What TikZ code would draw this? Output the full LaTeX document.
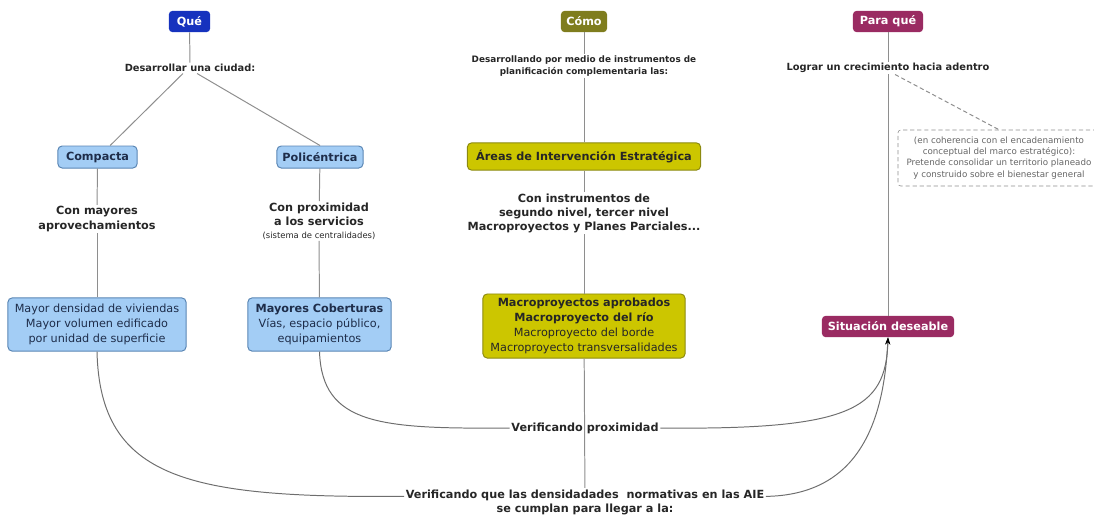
\documentclass[tikz,border=0pt]{standalone}
\usepackage{fontspec}
\setmainfont{DejaVu Sans}
\usetikzlibrary{arrows.meta}
\definecolor{colQue}{HTML}{1632BE}
\definecolor{colComo}{HTML}{7F7D1E}
\definecolor{colPara}{HTML}{9A2B62}
\definecolor{colAzul}{HTML}{A3CDF5}
\definecolor{colAzulBorde}{HTML}{5A86B4}
\definecolor{colAzulTexto}{HTML}{1E2D4A}
\definecolor{colAmarillo}{HTML}{CCC600}
\definecolor{colAmBorde}{HTML}{8C8A10}
\definecolor{colGris}{HTML}{8E8E8E}
\definecolor{colCurva}{HTML}{6E6E6E}
\begin{document}
\begin{tikzpicture}[x=0.025cm,y=-0.025cm]
				\tikzstyle{cabeza}=[rounded corners=2.5pt,text=white,inner sep=1pt,minimum height=0.53cm,
				font=\bfseries\fontsize{8}{9}\selectfont]
				\tikzstyle{concepto}=[rounded corners=3pt,draw=colAzulBorde,fill=colAzul,text=colAzulTexto,
				align=center,inner sep=1pt,line width=0.7pt]
				\tikzstyle{aie}=[rounded corners=3pt,draw=colAmBorde,fill=colAmarillo,text=black!85,
				align=center,inner sep=1pt,line width=0.7pt]
				\tikzstyle{frase}=[align=center,text=black!85,inner sep=1pt,font=\bfseries\fontsize{8}{10}\selectfont]
				\tikzstyle{nota}=[rounded corners=2pt,draw=colGris,densely dashed,text=black!60,align=center,
				inner sep=1pt,font=\fontsize{6.2}{7.9}\selectfont]
				\tikzstyle{linea}=[draw=colGris,line width=0.7pt]
				\tikzstyle{curva}=[draw=colCurva,line width=0.7pt]
				\tikzstyle{punta}=[-{Stealth[length=5pt,width=3.5pt,color=black]}]
				\useasboundingbox (0,0) rectangle (1094,515);
				% que
				\node[cabeza,fill=colQue,minimum width=1.03cm] (que) at (189.5,21.5) {Qué};
				\node[frase,font=\bfseries\fontsize{7}{9}\selectfont] (des) at (190,68) {Desarrollar una ciudad:};
				\node[concepto,minimum width=1.98cm,minimum height=0.55cm,font=\bfseries\fontsize{8}{9}\selectfont]
				(comp) at (97.5,157) {Compacta};
				\node[concepto,minimum width=2.15cm,minimum height=0.55cm,font=\bfseries\fontsize{8}{9}\selectfont]
				(poli) at (320,157) {Policéntrica};
				\node[frase] (mayo) at (97,219) {Con mayores\\aprovechamientos};
				\node[frase] (prox) at (319,221) {Con proximidad\\a los servicios\\[-1pt]
					{\mdseries\fontsize{6}{7}\selectfont (sistema de centralidades)}};
				\node[concepto,minimum width=4.45cm,minimum height=1.33cm,font=\fontsize{8}{10.5}\selectfont]
				(dens) at (97,324.5) {Mayor densidad de viviendas\\Mayor volumen edificado\\por unidad de superficie};
				\node[concepto,minimum width=3.58cm,minimum height=1.33cm,font=\fontsize{8}{10.5}\selectfont]
				(cob) at (319.5,324.5) {\textbf{Mayores Coberturas}\\Vías, espacio público,\\equipamientos};
				% como
				\node[cabeza,fill=colComo,minimum width=1.15cm] (como) at (584,21.5) {Cómo};
				\node[frase,font=\bfseries\fontsize{6.3}{8}\selectfont] (desa) at (584,66)
				{Desarrollando por medio de instrumentos de\\planificación complementaria las:};
				\node[aie,minimum width=5.83cm,minimum height=0.68cm,font=\bfseries\fontsize{8}{9}\selectfont]
				(areas) at (584,156.5) {Áreas de Intervención Estratégica};
				\node[frase] (inst) at (584,213) {Con instrumentos de\\segundo nivel, tercer nivel\\Macroproyectos y Planes Parciales...};
				\node[aie,minimum width=5.05cm,minimum height=1.6cm,font=\fontsize{8}{10.7}\selectfont]
				(macro) at (584,326) {\textbf{Macroproyectos aprobados}\\\textbf{Macroproyecto del río}\\
					Macroproyecto del borde\\Macroproyecto transversalidades};
				% para que
				\node[cabeza,fill=colPara,minimum width=1.75cm] (para) at (888,21.5) {Para qué};
				\node[frase,font=\bfseries\fontsize{7}{9}\selectfont] (logr) at (888,68) {Lograr un crecimiento hacia adentro};
				\node[nota,minimum width=5.05cm,minimum height=1.4cm] (nota) at (999,158)
				{(en coherencia con el encadenamiento\\conceptual del marco estratégico):\\
					Pretende consolidar un territorio planeado\\y construido sobre el bienestar general};
				\node[cabeza,fill=colPara,minimum width=3.3cm] (sit) at (888,326.5) {Situación deseable};
				% verificacion
				\node[frase] (vprox) at (585,428) {Verificando proximidad};
				\node[frase] (vdens) at (585,502)
				{Verificando que las densidadades\ \ normativas en las AIE\\se cumplan para llegar a la:};
				% conectores
				\draw[linea] (que) -- (des);
				\draw[linea] ([xshift=-5pt]des.south) -- ([xshift=9pt]comp.north);
				\draw[linea] ([xshift=5pt]des.south) -- (poli.north);
				\draw[linea] (comp) -- (mayo);
				\draw[linea] (mayo) -- (dens);
				\draw[linea] (poli) -- (prox);
				\draw[linea] (prox) -- (cob);
				\draw[linea] (como) -- (desa);
				\draw[linea] (desa) -- (areas);
				\draw[linea] (areas) -- (inst);
				\draw[linea] (inst) -- (macro);
				\draw[linea] (macro) -- (vdens);
				\draw[linea] (para) -- (logr);
				\draw[linea] (logr) -- (sit);
				\draw[linea,densely dashed] ([xshift=5pt]logr.south) -- (nota.north);
				\draw[curva] (cob.south) .. controls (322,425) and (380,429) .. (vprox.west);
				\draw[curva,punta] (vprox.east) .. controls (850,430) and (886,410) .. (sit.south);
				\draw[curva] (dens.south) .. controls (100,480) and (190,498) .. ([yshift=4pt]vdens.west);
				\draw[curva,punta] ([yshift=4pt]vdens.east) .. controls (860,495) and (884,420) .. (sit.south);
\end{tikzpicture}
\end{document}
